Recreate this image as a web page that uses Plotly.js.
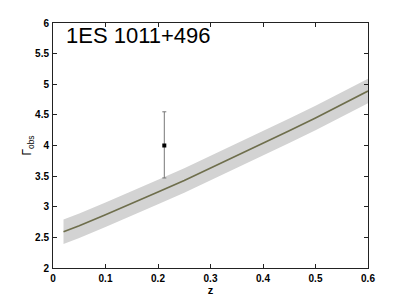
<!DOCTYPE html>
<html><head><meta charset="utf-8">
<script src="https://cdn.plot.ly/plotly-3.0.1.min.js"></script>
<style>body{margin:0;background:#fff}#c{width:407px;height:302px}</style>
</head><body><div id="c"></div>
<script>
var z = [0.02, 0.05, 0.1, 0.15, 0.2, 0.25, 0.3, 0.35, 0.4, 0.45, 0.5, 0.55, 0.6];
var gammaModel = [2.59, 2.69, 2.87, 3.05, 3.24, 3.43, 3.63, 3.83, 4.03, 4.24, 4.45, 4.67, 4.89];
var bandLow = [2.39, 2.49, 2.67, 2.85, 3.04, 3.23, 3.43, 3.63, 3.83, 4.04, 4.25, 4.47, 4.69];
var bandHigh = [2.79, 2.89, 3.07, 3.25, 3.44, 3.63, 3.83, 4.03, 4.23, 4.44, 4.65, 4.87, 5.09];
var obsZ = [0.212];
var obsGamma = [4.0];
var obsErrPlus = [0.55];
var obsErrMinus = [0.53];
var xTicks = [0, 0.1, 0.2, 0.3, 0.4, 0.5, 0.6];
var xTickText = ['0', '0.1', '0.2', '0.3', '0.4', '0.5', '0.6'];
var yTicks = [2, 2.5, 3, 3.5, 4, 4.5, 5, 5.5, 6];
var yTickText = ['2', '2.5', '3', '3.5', '4', '4.5', '5', '5.5', '6'];

var traces = [
  {x: z, y: bandLow, mode: 'lines', line: {width: 0, color: 'rgba(0,0,0,0)'}, showlegend: false, hoverinfo: 'skip'},
  {x: z, y: bandHigh, mode: 'lines', fill: 'tonexty', fillcolor: '#d3d3d3', line: {width: 0, color: 'rgba(0,0,0,0)'}, showlegend: false, hoverinfo: 'skip'},
  {x: z, y: gammaModel, mode: 'lines', line: {color: '#6e6e4c', width: 1.6}, showlegend: false},
  {x: obsZ, y: obsGamma, mode: 'markers', marker: {symbol: 'square', size: 4, color: '#000'},
   error_y: {type: 'data', symmetric: false, array: obsErrPlus, arrayminus: obsErrMinus, color: '#777', thickness: 1, width: 2},
   showlegend: false}
];
var axisFont = {family: 'Liberation Sans, Arial, sans-serif', size: 10, color: '#000', weight: 'bold'};
var layout = {
  width: 407, height: 302,
  margin: {l: 53, r: 39, t: 23, b: 34},
  paper_bgcolor: '#fff', plot_bgcolor: '#fff',
  showlegend: false,
  xaxis: {range: [0, 0.6], tickvals: xTicks, ticktext: xTickText, ticks: 'inside', ticklen: 4, tickcolor: '#222',
    showline: true, linecolor: '#222', linewidth: 1, mirror: 'ticks', showgrid: false, zeroline: false,
    tickfont: axisFont, ticklabelstandoff: 1,
    title: {text: 'z', font: {family: 'Liberation Sans, Arial, sans-serif', size: 11, color: '#000', weight: 'bold'}, standoff: 1}},
  yaxis: {range: [2, 6], tickvals: yTicks, ticktext: yTickText, ticks: 'inside', ticklen: 4, tickcolor: '#222',
    showline: true, linecolor: '#222', linewidth: 1, mirror: 'ticks', showgrid: false, zeroline: false,
    tickfont: axisFont, ticklabelstandoff: 1,
    title: {text: 'Γ<sub>obs</sub>', font: {family: 'Liberation Sans, Arial, sans-serif', size: 12, color: '#000'}, standoff: 0}},
  annotations: [{xref: 'paper', yref: 'paper', x: 0.035, y: 1.008, xanchor: 'left', yanchor: 'top', showarrow: false,
    text: '1ES 1011+496', font: {family: 'Liberation Sans, Arial, sans-serif', size: 22, color: '#000'}}]
};
Plotly.newPlot('c', traces, layout, {staticPlot: true, displayModeBar: false});
</script></body></html>
